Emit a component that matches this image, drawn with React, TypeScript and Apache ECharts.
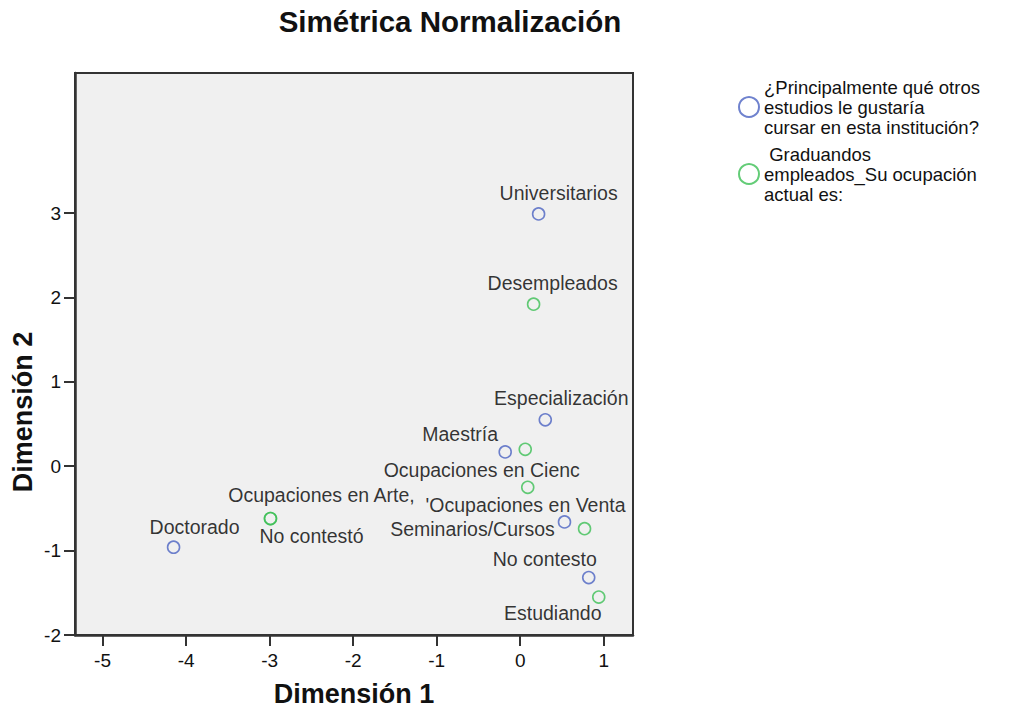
import React, { useEffect, useRef } from 'react';
import * as echarts from 'echarts';

const titleText = 'Simétrica Normalización';
const xName = 'Dimensión 1';
const yName = 'Dimensión 2';
const seriesNames = [
  '¿Principalmente qué otros\nestudios le gustaría\ncursar en esta institución?',
  ' Graduandos\nempleados_Su ocupación\nactual es:',
];

const studyLabels = ['Universitarios', 'Especialización', 'Maestría', 'Seminarios/Cursos', 'No contesto', 'Doctorado'];
const studyDim1 = [0.22, 0.3, -0.18, 0.53, 0.82, -4.15];
const studyDim2 = [2.99, 0.55, 0.17, -0.66, -1.32, -0.96];

const occLabels = ['Desempleados', '', 'Ocupaciones en Cienc', "'Ocupaciones en Venta", 'Estudiando', 'Ocupaciones en Arte,', 'No contestó'];
const occDim1 = [0.16, 0.06, 0.09, 0.77, 0.94, -2.99, -2.99];
const occDim2 = [1.92, 0.2, -0.25, -0.74, -1.55, -0.62, -0.62];

const xTicks = [-5, -4, -3, -2, -1, 0, 1];
const yTicks = [-2, -1, 0, 1, 2, 3];

// label placement (pixel offsets from the marker centre) – styling only
const studyOffsets: number[][] = [[20, -21], [16, -22], [-45, -18], [-92, 7], [-44, -19], [21, -20]];
const occOffsets: number[][] = [[19, -21], [0, 0], [-46, -17], [-59, -24], [-46, 16], [51, -24], [41, 17]];

const FONT = '"Liberation Sans", Arial, Helvetica, sans-serif';
const BLUE = '#4b63c2';
const GREEN = '#3cbf55';
const AXIS = '#333333';

function buildData(labels: string[], d1: number[], d2: number[], offsets: number[][]) {
  return labels.map((name, i) => ({
    name,
    value: [d1[i], d2[i]],
    label: {
      show: name !== '',
      formatter: name,
      position: 'inside',
      offset: offsets[i],
    },
  }));
}

export default function App() {
  const ref = useRef<HTMLDivElement>(null);
  useEffect(() => {
    if (!ref.current) return;
    const chart = echarts.init(ref.current, undefined, { renderer: 'svg' });
    const labelStyle = {
      color: '#000000',
      fontSize: 19.5,
      fontFamily: FONT,
      align: 'center',
      verticalAlign: 'middle',
      textBorderWidth: 0,
      textBorderColor: 'transparent',
    };
    chart.setOption({
      animation: false,
      backgroundColor: '#ffffff',
      grid: {
        left: 75,
        top: 73,
        right: 383,
        bottom: 79,
        show: true,
        backgroundColor: '#f0f0f0',
        borderColor: AXIS,
        borderWidth: 2,
      },
      xAxis: {
        type: 'value',
        min: -5.33,
        max: 1.35,
        axisLine: { show: true, onZero: false, lineStyle: { color: AXIS, width: 2.5 } },
        axisTick: { show: true, customValues: xTicks, length: 11, lineStyle: { color: AXIS, width: 2 } },
        axisLabel: { customValues: xTicks, margin: 16, fontSize: 19, color: '#111', fontFamily: FONT },
        splitLine: { show: false },
      },
      yAxis: {
        type: 'value',
        min: -2,
        max: 4.66,
        axisLine: { show: true, onZero: false, lineStyle: { color: AXIS, width: 2.5 } },
        axisTick: { show: true, customValues: yTicks, length: 11, lineStyle: { color: AXIS, width: 2 } },
        axisLabel: { customValues: yTicks, margin: 14, fontSize: 19, color: '#111', fontFamily: FONT },
        splitLine: { show: false },
      },
      legend: {
        orient: 'vertical',
        left: 738,
        top: 77,
        itemGap: 7,
        itemWidth: 20,
        itemHeight: 20,
        padding: 0,
        selectedMode: false,
        textStyle: { fontSize: 18.5, lineHeight: 20, color: '#111', fontFamily: FONT },
        data: [
          { name: seriesNames[0], icon: 'circle', itemStyle: { color: 'transparent', borderColor: BLUE, borderWidth: 2 } },
          { name: seriesNames[1], icon: 'circle', itemStyle: { color: 'transparent', borderColor: GREEN, borderWidth: 2 } },
        ],
      },
      graphic: [
        {
          type: 'text',
          x: 450,
          y: 21,
          style: { text: titleText, fill: '#111', font: `bold 29.5px ${FONT}`, align: 'center', verticalAlign: 'middle' },
        },
        {
          type: 'text',
          x: 354,
          y: 694,
          style: { text: xName, fill: '#111', font: `bold 27px ${FONT}`, align: 'center', verticalAlign: 'middle' },
        },
        {
          type: 'text',
          x: 23,
          y: 412,
          rotation: Math.PI / 2,
          style: { text: yName, fill: '#111', font: `bold 27px ${FONT}`, align: 'center', verticalAlign: 'middle' },
        },
      ],
      series: [
        {
          name: seriesNames[0],
          type: 'scatter',
          symbol: 'circle',
          symbolSize: 12,
          silent: true,
          itemStyle: { color: 'transparent', borderColor: BLUE, borderWidth: 1.6 },
          label: labelStyle,
          emphasis: { disabled: true },
          data: buildData(studyLabels, studyDim1, studyDim2, studyOffsets),
          z: 3,
        },
        {
          name: seriesNames[1],
          type: 'scatter',
          symbol: 'circle',
          symbolSize: 12,
          silent: true,
          itemStyle: { color: 'transparent', borderColor: GREEN, borderWidth: 1.6 },
          label: labelStyle,
          emphasis: { disabled: true },
          data: buildData(occLabels, occDim1, occDim2, occOffsets),
          z: 2,
        },
      ],
    });
    return () => chart.dispose();
  }, []);
  return <div ref={ref} style={{ position: 'fixed', left: 0, top: 0, width: 1016, height: 714 }} />;
}
